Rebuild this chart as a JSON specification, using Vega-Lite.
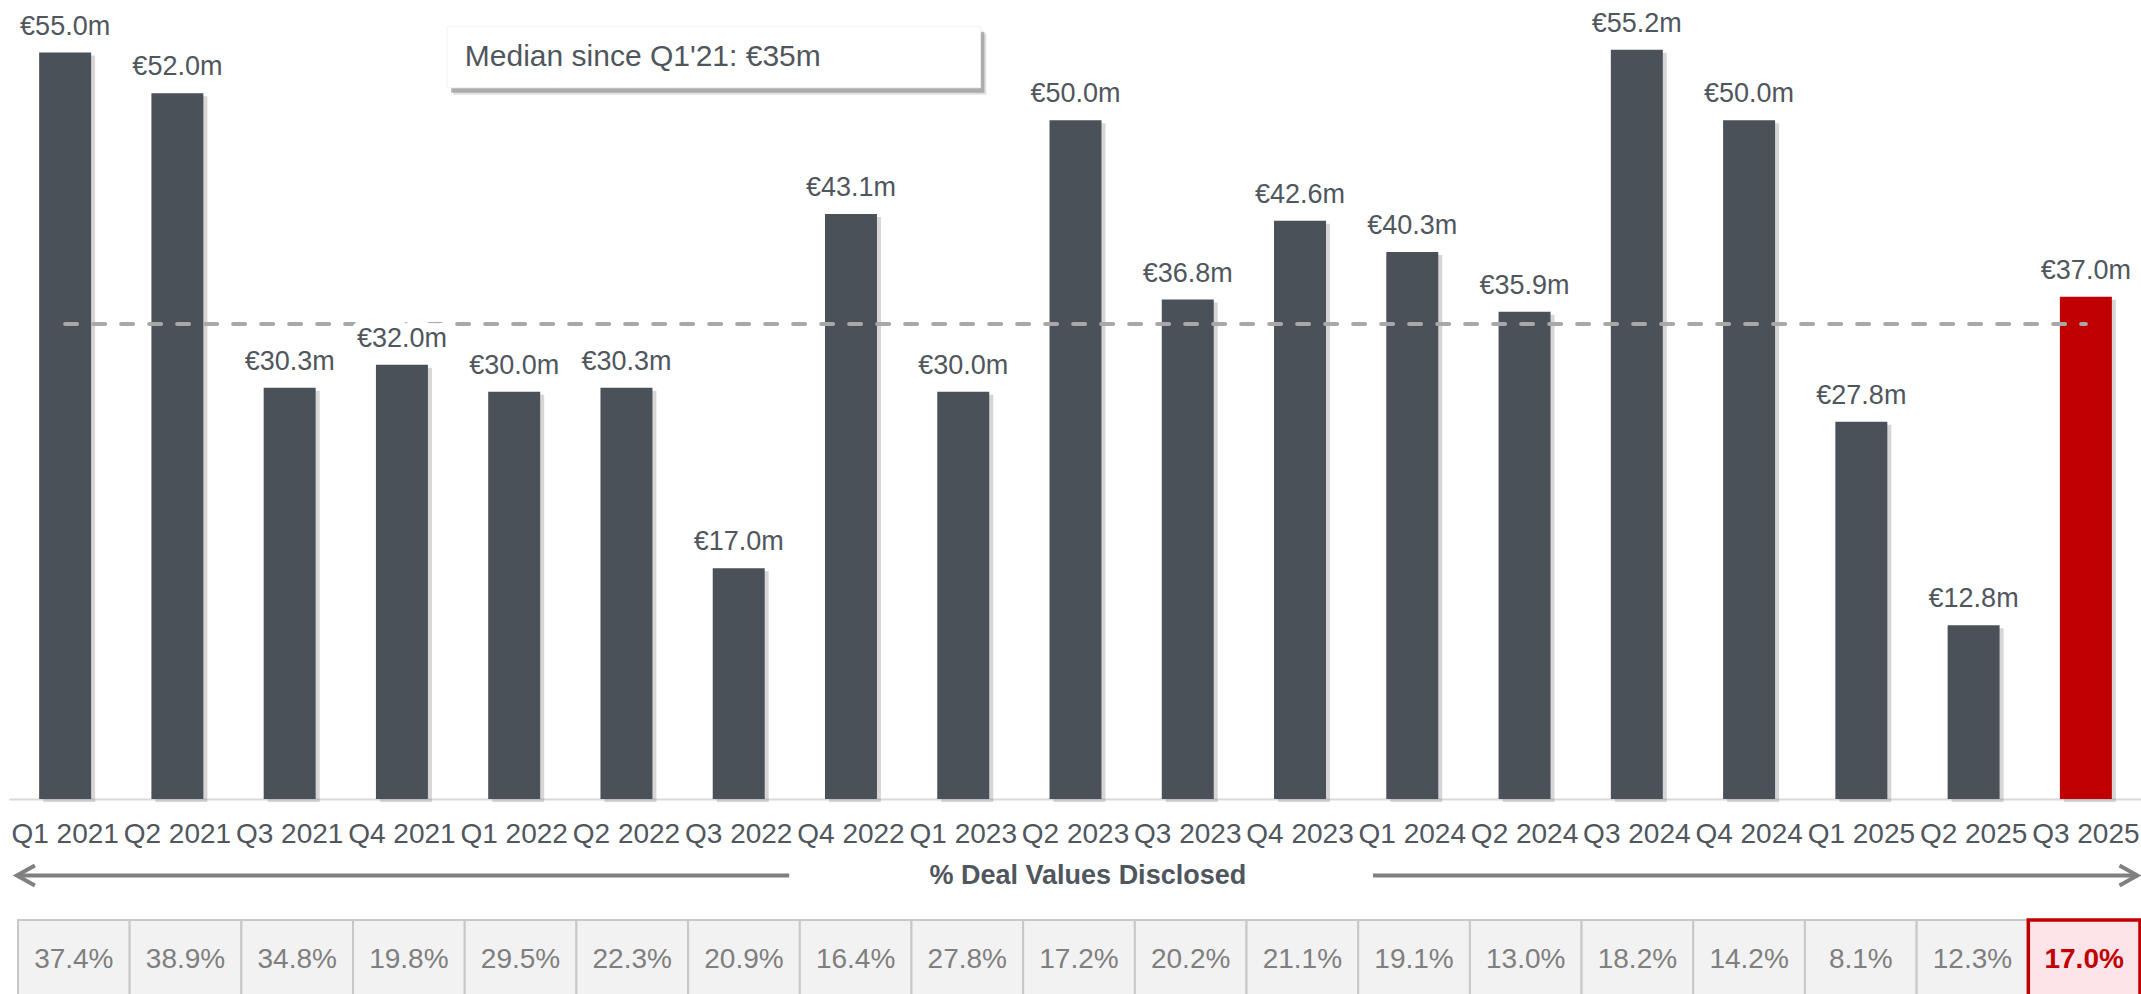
{
  "$schema": "https://vega.github.io/schema/vega-lite/v6.json",
  "background": "white",
  "padding": {"left": 8, "top": 5, "right": 0, "bottom": 0},
  "autosize": {"type": "pad"},
  "bounds": "flush",
  "spacing": 0,
  "config": {
    "view": {"stroke": null},
    "font": "Liberation Sans",
    "locale": {"number": {"decimal": ".", "thousands": ",", "grouping": [3], "currency": ["€", "m"]}}
  },
  "data": {"values": [
    {"q": "Q1 2021", "value": 55.0, "pct": 0.374, "hl": "no"},
    {"q": "Q2 2021", "value": 52.0, "pct": 0.389, "hl": "no"},
    {"q": "Q3 2021", "value": 30.3, "pct": 0.348, "hl": "no"},
    {"q": "Q4 2021", "value": 32.0, "pct": 0.198, "hl": "no"},
    {"q": "Q1 2022", "value": 30.0, "pct": 0.295, "hl": "no"},
    {"q": "Q2 2022", "value": 30.3, "pct": 0.223, "hl": "no"},
    {"q": "Q3 2022", "value": 17.0, "pct": 0.209, "hl": "no"},
    {"q": "Q4 2022", "value": 43.1, "pct": 0.164, "hl": "no"},
    {"q": "Q1 2023", "value": 30.0, "pct": 0.278, "hl": "no"},
    {"q": "Q2 2023", "value": 50.0, "pct": 0.172, "hl": "no"},
    {"q": "Q3 2023", "value": 36.8, "pct": 0.202, "hl": "no"},
    {"q": "Q4 2023", "value": 42.6, "pct": 0.211, "hl": "no"},
    {"q": "Q1 2024", "value": 40.3, "pct": 0.191, "hl": "no"},
    {"q": "Q2 2024", "value": 35.9, "pct": 0.130, "hl": "no"},
    {"q": "Q3 2024", "value": 55.2, "pct": 0.182, "hl": "no"},
    {"q": "Q4 2024", "value": 50.0, "pct": 0.142, "hl": "no"},
    {"q": "Q1 2025", "value": 27.8, "pct": 0.081, "hl": "no"},
    {"q": "Q2 2025", "value": 12.8, "pct": 0.123, "hl": "no"},
    {"q": "Q3 2025", "value": 37.0, "pct": 0.170, "hl": "yes"}
  ]},
  "resolve": {"scale": {"x": "independent"}},
  "vconcat": [
    {
      "width": 2133,
      "height": 794,
      "encoding": {
        "x": {
          "field": "q", "type": "ordinal", "sort": null,
          "scale": {"paddingInner": 0.537, "paddingOuter": 0.2685},
          "axis": {
            "title": null, "labelFontSize": 28, "labelColor": "#50565e", "labelPadding": 21,
            "ticks": false, "tickSize": 0, "domainColor": "#d9d9d9", "domainWidth": 2,
            "labelAngle": 0, "labelOverlap": false, "labelBound": false, "labelFont": "Liberation Sans"
          }
        }
      },
      "layer": [
        {
          "mark": {"type": "bar", "color": "#8a8a8a", "opacity": 0.35, "xOffset": 4, "yOffset": 3},
          "encoding": {
            "y": {"field": "value", "type": "quantitative", "scale": {"domain": [0, 58.5], "nice": false}, "axis": null}
          }
        },
        {
          "mark": {"type": "bar"},
          "encoding": {
            "y": {"field": "value", "type": "quantitative"},
            "color": {"field": "hl", "type": "nominal", "scale": {"domain": ["no", "yes"], "range": ["#4b5159", "#c00000"]}, "legend": null}
          }
        },
        {
          "data": {"values": [{}]},
          "mark": {"type": "rule", "color": "#a8a8a8", "strokeWidth": 4, "strokeDash": [12, 16], "strokeCap": "round"},
          "encoding": {
            "x": {"datum": "Q1 2021"},
            "x2": {"datum": "Q3 2025"},
            "y": {"datum": 35, "type": "quantitative"}
          }
        },
        {
          "mark": {"type": "text", "baseline": "alphabetic", "dy": -18, "fontSize": 27, "fill": "white", "stroke": "white", "strokeWidth": 18, "strokeJoin": "round"},
          "encoding": {
            "y": {"field": "value", "type": "quantitative"},
            "text": {"field": "value", "type": "quantitative", "format": "$.1f"}
          }
        },
        {
          "mark": {"type": "text", "baseline": "alphabetic", "dy": -18, "fontSize": 27, "color": "#50565e"},
          "encoding": {
            "y": {"field": "value", "type": "quantitative"},
            "text": {"field": "value", "type": "quantitative", "format": "$.1f"}
          }
        },
        {
          "data": {"values": [{}]},
          "mark": {"type": "rect", "fill": "#c4c4c4", "opacity": 0.5},
          "encoding": {
            "x": {"datum": "Q4 2021", "bandPosition": 1.485},
            "x2": {"datum": "Q1 2023", "bandPosition": 0.945},
            "y": {"datum": 56.38, "type": "quantitative"},
            "y2": {"datum": 51.88}
          }
        },
        {
          "data": {"values": [{}]},
          "mark": {"type": "rect", "fill": "#8f8f8f", "opacity": 0.65},
          "encoding": {
            "x": {"datum": "Q4 2021", "bandPosition": 1.447},
            "x2": {"datum": "Q1 2023", "bandPosition": 0.907},
            "y": {"datum": 56.53, "type": "quantitative"},
            "y2": {"datum": 52.03}
          }
        },
        {
          "data": {"values": [{}]},
          "mark": {"type": "rect", "fill": "white", "stroke": "#f3f3f3", "strokeWidth": 1},
          "encoding": {
            "x": {"datum": "Q4 2021", "bandPosition": 1.37},
            "x2": {"datum": "Q1 2023", "bandPosition": 0.83},
            "y": {"datum": 56.9, "type": "quantitative"},
            "y2": {"datum": 52.4}
          }
        },
        {
          "data": {"values": [{}]},
          "mark": {"type": "text", "align": "left", "baseline": "middle", "fontSize": 30, "color": "#50565e", "text": "Median since Q1'21: €35m"},
          "encoding": {
            "x": {"datum": "Q4 2021", "bandPosition": 1.71},
            "y": {"datum": 54.7, "type": "quantitative"}
          }
        }
      ]
    },
    {
      "width": 2133,
      "height": 121,
      "data": {"values": [{}]},
      "layer": [
        {
          "mark": {"type": "rule", "color": "#808080", "strokeWidth": 4, "yOffset": 16},
          "encoding": {
            "x": {"datum": 0.07, "type": "quantitative", "scale": {"domain": [0, 19], "nice": false, "zero": false}, "axis": null},
            "x2": {"datum": 6.95}
          }
        },
        {
          "mark": {"type": "rule", "color": "#808080", "strokeWidth": 4, "yOffset": 16},
          "encoding": {
            "x": {"datum": 12.15, "type": "quantitative"},
            "x2": {"datum": 18.96}
          }
        },
        {
          "mark": {"type": "point", "shape": "M 1 -0.55 L 0 0 L 1 0.55", "size": 1300, "filled": false, "stroke": "#808080", "strokeWidth": 4, "opacity": 1, "yOffset": 16},
          "encoding": {"x": {"datum": 0.07, "type": "quantitative"}}
        },
        {
          "mark": {"type": "point", "shape": "M -1 -0.55 L 0 0 L -1 0.55", "size": 1300, "filled": false, "stroke": "#808080", "strokeWidth": 4, "opacity": 1, "yOffset": 16},
          "encoding": {"x": {"datum": 18.96, "type": "quantitative"}}
        },
        {
          "mark": {"type": "text", "text": "% Deal Values Disclosed", "fontSize": 27, "fontWeight": "bold", "color": "#50565e", "baseline": "middle", "dy": 16},
          "encoding": {"x": {"datum": 9.61, "type": "quantitative"}}
        }
      ]
    },
    {
      "width": 2133,
      "height": 80,
      "encoding": {
        "x": {"field": "q", "type": "ordinal", "sort": null, "scale": {"paddingInner": 0, "paddingOuter": 0.0492, "align": 0.818}, "axis": null}
      },
      "layer": [
        {
          "mark": {"type": "rect", "stroke": "#c8c8c8", "strokeWidth": 2},
          "encoding": {
            "fill": {"field": "hl", "type": "nominal", "scale": {"domain": ["no", "yes"], "range": ["#f2f2f2", "#fce4e8"]}, "legend": null}
          }
        },
        {
          "transform": [{"filter": "datum.hl === 'yes'"}],
          "mark": {"type": "rect", "stroke": "#c00000", "strokeWidth": 3.5, "fill": null, "fillOpacity": 0}
        },
        {
          "transform": [{"filter": "datum.hl === 'no'"}],
          "mark": {"type": "text", "fontSize": 28, "color": "#7f7f7f", "baseline": "middle"},
          "encoding": {"text": {"field": "pct", "type": "quantitative", "format": ".1%"}}
        },
        {
          "transform": [{"filter": "datum.hl === 'yes'"}],
          "mark": {"type": "text", "fontSize": 28, "fontWeight": "bold", "color": "#c00000", "baseline": "middle"},
          "encoding": {"text": {"field": "pct", "type": "quantitative", "format": ".1%"}}
        }
      ]
    }
  ]
}
